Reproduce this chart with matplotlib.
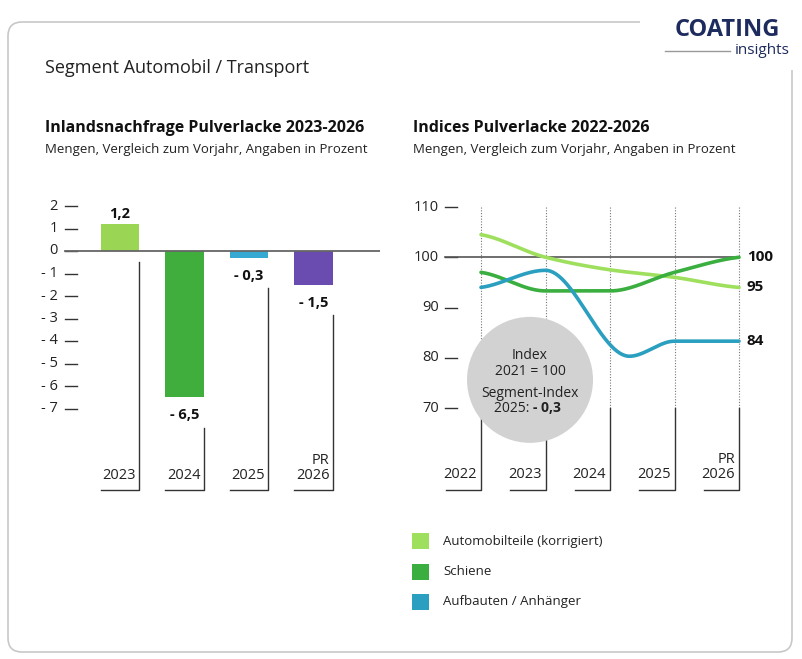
import numpy as np
import matplotlib
matplotlib.use("Agg")
import matplotlib.pyplot as plt
from matplotlib.patches import FancyBboxPatch, Ellipse, Rectangle

plt.rcParams['font.family'] = ['Open Sans', 'DejaVu Sans']

# ---- data ----
bar_years = ["2023", "2024", "2025", "PR\n2026"]
bar_values = [1.2, -6.5, -0.3, -1.5]
bar_labels = ["1,2", "- 6,5", "- 0,3", "- 1,5"]
bar_colors = ["#9ad654", "#3fae3c", "#36a9d2", "#6a4cb0"]
left_ticks = [2, 1, 0, -1, -2, -3, -4, -5, -6, -7]

line_years = ["2022", "2023", "2024", "2025", "PR\n2026"]
auto_x = [0, 1, 2, 3, 4]
auto_v = [104.5, 100.0, 97.5, 96.0, 94.0]
schiene_x = [0, 1, 2, 3, 4]
schiene_v = [97.0, 93.3, 93.3, 97.0, 100.0]
aufb_x = [0, 1, 2.3, 3, 4]
aufb_v = [94.0, 97.4, 80.3, 83.3, 83.3]
end_labels = ["95", "100", "84"]
right_ticks = [110, 100, 90, 80, 70]
legend_names = ["Automobilteile (korrigiert)", "Schiene", "Aufbauten / Anhänger"]
line_colors = ["#9ee05e", "#3aae3f", "#2a9fc0"]

W, H = 802, 659
fig = plt.figure(figsize=(W/100, H/100), dpi=100)

def pchip(x, y, n=200):
    x = np.asarray(x, float); y = np.asarray(y, float)
    h = np.diff(x); d = np.diff(y) / h
    m = np.zeros_like(y)
    for k in range(1, len(x) - 1):
        if d[k-1] * d[k] > 0:
            w1 = 2*h[k] + h[k-1]; w2 = h[k] + 2*h[k-1]
            m[k] = (w1 + w2) / (w1/d[k-1] + w2/d[k])
    m[0] = d[0] * 0.5
    m[-1] = d[-1] * 0.5
    xs = np.linspace(x[0], x[-1], n); ys = np.empty_like(xs)
    for i, xv in enumerate(xs):
        k = min(np.searchsorted(x, xv, side='right') - 1, len(x) - 2)
        t = (xv - x[k]) / h[k]
        h00 = 2*t**3 - 3*t**2 + 1; h10 = t**3 - 2*t**2 + t
        h01 = -2*t**3 + 3*t**2; h11 = t**3 - t**2
        ys[i] = h00*y[k] + h10*h[k]*m[k] + h01*y[k+1] + h11*h[k]*m[k+1]
    return xs, ys

# frame
bg = fig.add_axes([0, 0, 1, 1]); bg.set_xlim(0, W); bg.set_ylim(H, 0); bg.axis('off')
bg.add_patch(FancyBboxPatch((8, 22), 784, 630, boxstyle="round,pad=0,rounding_size=14",
                            fc='white', ec='#c8c8c8', lw=1.2))
bg.add_patch(Rectangle((640, 10), 162, 60, fc='white', ec='none'))
bg.text(727, 30, "COATING", ha='center', va='center', fontsize=17, fontweight='bold', color='#1e2b5e')
bg.text(790, 51, "insights", ha='right', va='center', fontsize=11, color='#1e2b5e')
bg.plot([665, 730], [51, 51], color='#999999', lw=1)
bg.text(45, 68, "Segment Automobil / Transport", ha='left', va='center', fontsize=13, color='#222')
bg.text(45, 128, "Inlandsnachfrage Pulverlacke 2023-2026", fontsize=11.5, fontweight='bold', va='center', color='#111')
bg.text(45, 150, "Mengen, Vergleich zum Vorjahr, Angaben in Prozent", fontsize=9.5, va='center', color='#222')
bg.text(413, 128, "Indices Pulverlacke 2022-2026", fontsize=11.5, fontweight='bold', va='center', color='#111')
bg.text(413, 150, "Mengen, Vergleich zum Vorjahr, Angaben in Prozent", fontsize=9.5, va='center', color='#222')

# ---- left chart ----
x0, x1, y0, y1 = 30, 380, 195, 495
axL = fig.add_axes([x0/W, 1-y1/H, (x1-x0)/W, (y1-y0)/H])
sx = 64.5; cx0 = 120
axL.set_xlim((x0-cx0)/sx, (x1-cx0)/sx)
sy = 22.5
axL.set_ylim(-(y1-251)/sy, (251-y0)/sy)
axL.axis('off')
xs = np.arange(len(bar_values))
axL.bar(xs, bar_values, width=0.6, color=bar_colors, zorder=2)
axL.axhline(0, xmin=(65-x0)/(x1-x0), xmax=1, color='#666', lw=1.3, zorder=3)
xmin = (x0-cx0)/sx
for t in left_ticks:
    axL.text(xmin + (58-x0)/sx, t, f"{t}".replace("-", "- "), ha='right', va='center', fontsize=10.5, color='#222')
    axL.plot([xmin + (65-x0)/sx, xmin + (77-x0)/sx], [t, t], color='#333', lw=1)
bottom = -(490-251)/sy
for i, (v, lab, yr) in enumerate(zip(bar_values, bar_labels, bar_years)):
    ly = v + 0.45 if v > 0 else v - 0.8
    axL.text(i, ly, lab, ha='center', va='center', fontsize=10.5, fontweight='bold', color='#111')
    start = -0.5 if v > 0 else ly - 0.55
    axL.plot([i+0.3, i+0.3, i-0.3], [start, bottom, bottom], color='#333', lw=1)
    axL.text(i+0.25, bottom + 0.3, yr, ha='right', va='bottom', fontsize=10.5, color='#222', linespacing=1.0)

# ---- right chart ----
x0, x1 = 400, 790
axR = fig.add_axes([x0/W, 1-y1/H, (x1-x0)/W, (y1-y0)/H])
sx = 64.5; cx0 = 481
axR.set_xlim((x0-cx0)/sx, (x1-cx0)/sx)
sy = 5.025
axR.set_ylim(110-(y1-207)/sy, 110+(207-y0)/sy)
axR.axis('off')
xmin = (x0-cx0)/sx
bottomR = 110-(490-207)/sy
for t in right_ticks:
    axR.text(xmin + (439-x0)/sx, t, str(t), ha='right', va='center', fontsize=10.5, color='#222')
    axR.plot([xmin + (445-x0)/sx, xmin + (457-x0)/sx], [t, t], color='#333', lw=1)
axR.plot([xmin + (445-x0)/sx, 4], [100, 100], color='#555', lw=1.2, zorder=2)
for i, yr in enumerate(line_years):
    axR.plot([i, i], [110, 70], color='#777', lw=0.8, ls=(0, (1, 1.5)), zorder=1)
    axR.plot([i, i, i-0.55], [70, bottomR, bottomR], color='#333', lw=1, zorder=1)
    axR.text(i-0.06, bottomR + 1.5, yr, ha='right', va='bottom', fontsize=10.5, color='#222', linespacing=1.0)
for xx, vv, c in [(auto_x, auto_v, line_colors[0]), (schiene_x, schiene_v, line_colors[1]), (aufb_x, aufb_v, line_colors[2])]:
    a, b = pchip(xx, vv)
    axR.plot(a, b, color=c, lw=2.6, zorder=3, solid_capstyle='round')
for lab, v in zip(end_labels, [auto_v[-1], schiene_v[-1], aufb_v[-1]]):
    axR.text(4.12, v, lab, ha='left', va='center', fontsize=11, fontweight='bold', color='#111')
axR.add_patch(Ellipse((0.76, 75.6), 126/64.5, 126/sy, fc='#d2d2d2', ec='none', zorder=4))
cxt = 0.76
axR.text(cxt, 80.5, "Index", ha='center', va='center', fontsize=10, color='#222', zorder=5)
axR.text(cxt, 77.2, "2021 = 100", ha='center', va='center', fontsize=10, color='#222', zorder=5)
axR.text(cxt, 72.8, "Segment-Index", ha='center', va='center', fontsize=10, color='#222', zorder=5)
axR.text(cxt + 0.05, 70.0, "2025: ", ha='right', va='center', fontsize=10, color='#222', zorder=5)
axR.text(cxt + 0.05, 70.0, "- 0,3", ha='left', va='center', fontsize=10, fontweight='bold', color='#222', zorder=5)

# legend
for k, (n, c) in enumerate(zip(legend_names, line_colors)):
    y = 541 + k*30.5
    bg.add_patch(Rectangle((412, y-8), 17, 16, fc=c, ec='none'))
    bg.text(443, y, n, ha='left', va='center', fontsize=9.5, color='#222')

fig.savefig("out.png", dpi=100)
